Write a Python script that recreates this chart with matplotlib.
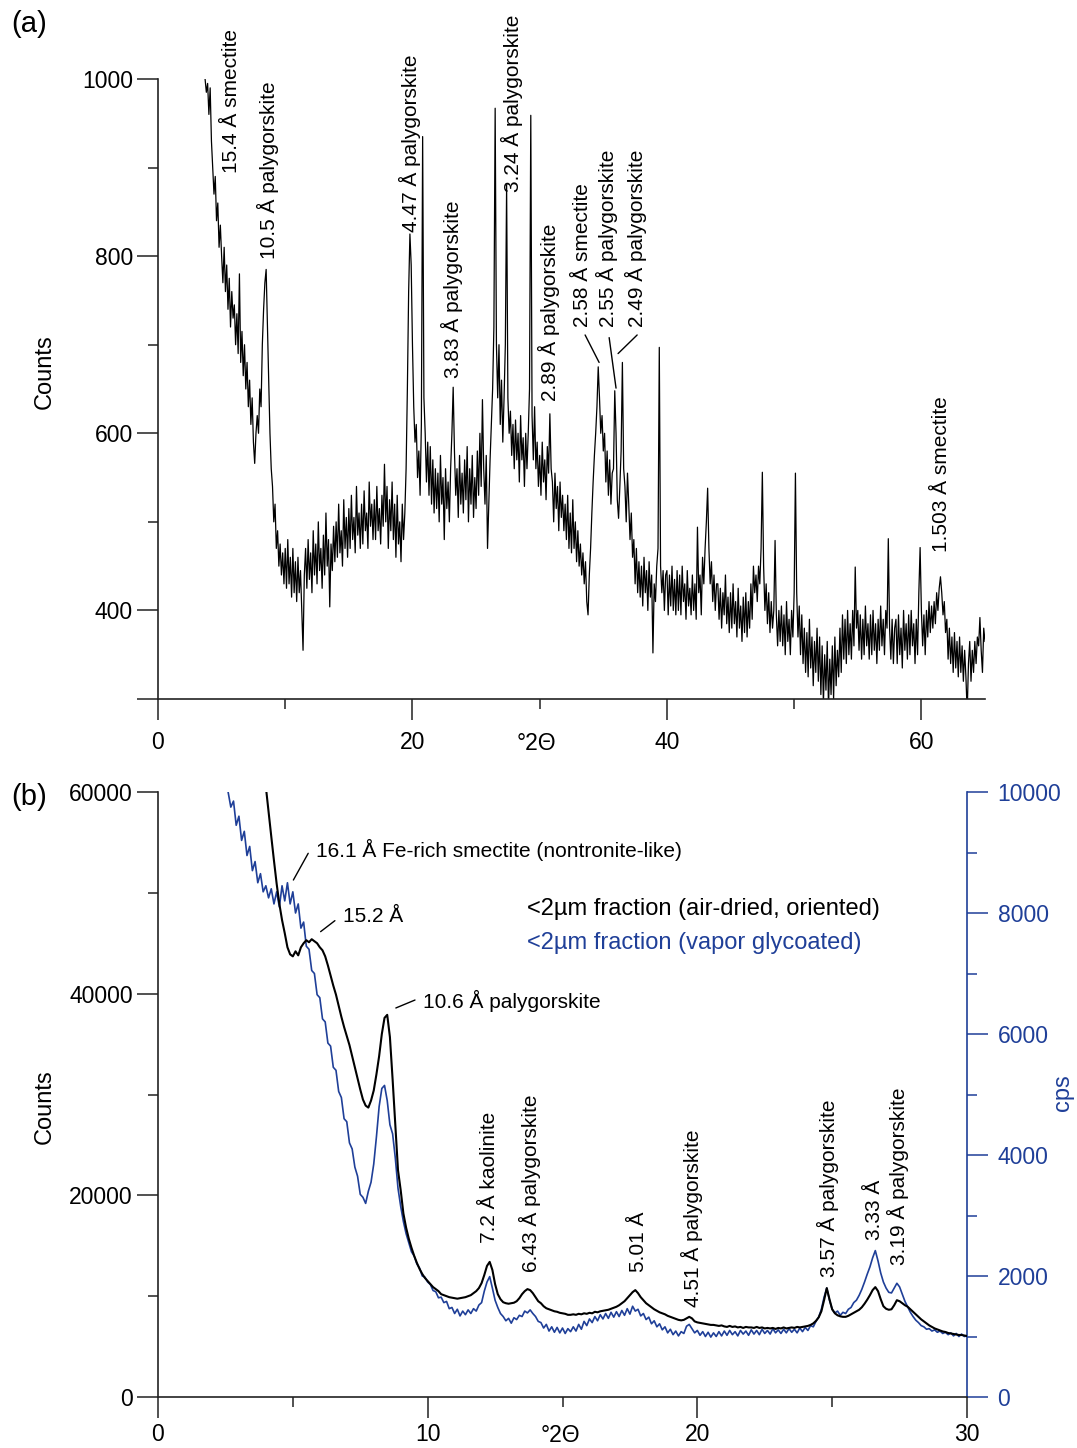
import numpy as np
import matplotlib
matplotlib.use('Agg')
import matplotlib.pyplot as plt

plt.rcParams['font.family'] = ['Liberation Sans', 'DejaVu Sans']

#######################################################################################################################################
# (a) amostra total : varredura de 3.7 a 65 graus 2theta, passo 0.1

tt_a_start = 3.7
tt_a_step = 0.1
counts_a = [
    1000, 985, 995,                                          # 3.7 - 3.9
    960, 990, 930, 900, 870, 890, 840, 860, 810, 835,        # 4
    800, 770, 810, 760, 790, 740, 775, 720, 760, 730,        # 5
    745, 700, 735, 690, 780, 680, 715, 665, 700, 650,        # 6
    680, 630, 660, 610, 640, 590, 566, 600, 620, 600,        # 7
    650, 630, 700, 740, 770, 785, 720, 660, 600, 560,        # 8
    540, 500, 520, 470, 490, 450, 475, 440, 465, 430,        # 9
    470, 425, 480, 430, 460, 415, 470, 420, 455, 410,        # 10
    460, 420, 445, 400, 355, 440, 470, 425, 480, 435,        # 11
    465, 420, 490, 440, 475, 430, 500, 445, 470, 425,        # 12
    485, 440, 510, 450, 480, 404, 475, 445, 495, 455,        # 13
    500, 460, 520, 465, 490, 450, 525, 470, 505, 460,        # 14
    515, 470, 530, 480, 505, 465, 540, 485, 510, 470,        # 15
    520, 475, 535, 490, 510, 470, 545, 495, 520, 480,        # 16
    525, 480, 540, 490, 515, 475, 530, 495, 565, 500,        # 17
    540, 470, 525, 490, 545, 480, 520, 460, 530, 475,        # 18
    500, 455, 520, 480, 510, 560, 650, 760, 825, 790,        # 19
    700, 630, 590, 610, 550, 580, 530, 610, 935, 640,        # 20
    600, 545, 590, 530, 585, 520, 570, 510, 560, 515,        # 21
    555, 500, 575, 520, 550, 480, 560, 515, 545, 500,        # 22
    560, 600, 652, 580, 530, 560, 505, 575, 520, 555,        # 23
    510, 570, 525, 585, 500, 560, 520, 575, 505, 550,        # 24
    515, 580, 530, 600, 540, 638, 560, 520, 575, 470,        # 25
    520, 570, 610, 650, 720, 967, 700, 640, 700, 610,        # 26
    660, 590, 640, 700, 880, 640, 600, 625, 575, 610,        # 27
    560, 615, 570, 600, 545, 620, 570, 595, 540, 600,        # 28
    560, 600, 650, 959, 620, 570, 630, 560, 590, 540,        # 29
    575, 530, 590, 545, 570, 525, 585, 555, 622, 560,        # 30
    545, 500, 555, 515, 540, 490, 545, 505, 530, 490,        # 31
    520, 480, 530, 470, 510, 465, 525, 470, 500, 455,        # 32
    490, 450, 475, 440, 465, 430, 455, 410, 395, 440,        # 33
    470, 510, 545, 575, 600, 630, 675, 640, 600, 620,        # 34
    580, 600, 545, 580, 530, 570, 520, 555, 560, 648,        # 35
    600, 525, 504, 540, 580, 680, 560, 540, 500, 555,        # 36
    520, 480, 510, 460, 480, 430, 470, 420, 455, 415,        # 37
    450, 405, 460, 420, 445, 400, 455, 415, 440, 352,        # 38
    430, 410, 450, 470, 697, 450, 420, 445, 400, 440,        # 39
    445, 395, 440, 405, 450, 400, 435, 395, 445, 400,        # 40
    440, 395, 450, 410, 430, 390, 445, 405, 425, 395,        # 41
    440, 400, 430, 390, 494, 420, 440, 395, 460, 430,        # 42
    470, 500, 538, 470, 430, 455, 410, 440, 400, 430,        # 43
    430, 390, 425, 380, 420, 395, 440, 385, 415, 375,        # 44
    420, 380, 430, 385, 410, 370, 425, 380, 405, 365,        # 45
    415, 375, 420, 370, 410, 380, 430, 390, 450, 420,        # 46
    440, 410, 450, 430, 470, 556, 450, 400, 430, 385,        # 47
    420, 375, 410, 380, 400, 479, 395, 360, 400, 365,        # 48
    405, 360, 395, 350, 410, 365, 390, 350, 400, 370,        # 49
    420, 555, 420, 370, 405, 350, 395, 340, 380, 330,        # 50
    375, 325, 390, 335, 370, 315, 365, 330, 380, 320,        # 51
    370, 305, 360, 295, 350, 310, 365, 290, 345, 305,        # 52
    360, 300, 370, 315, 355, 325, 380, 330, 395, 345,        # 53
    390, 340, 400, 350, 385, 345, 400, 360, 449, 380,        # 54
    400, 355, 395, 345, 390, 350, 405, 360, 385, 345,        # 55
    395, 350, 400, 355, 385, 340, 390, 355, 405, 360,        # 56
    390, 350, 400, 380, 481, 380, 345, 390, 340, 380,        # 57
    390, 340, 395, 350, 380, 335, 400, 355, 385, 345,        # 58
    395, 350, 400, 360, 385, 340, 390, 350, 420, 471,        # 59
    400, 360, 395, 350, 400, 370, 410, 375, 405, 380,        # 60
    410, 385, 420, 400, 425, 438, 420, 395, 410, 375,        # 61
    390, 345, 380, 340, 370, 330, 375, 335, 365, 325,        # 62
    370, 330, 360, 320, 355, 325, 285, 340, 365, 320,        # 63
    355, 330, 365, 340, 370, 360, 392, 355, 330, 380,        # 64
    365,                                                     # 65
]

labels_a = ['15.4 Å smectite', '10.5 Å palygorskite', '4.47 Å palygorskite',
            '3.83 Å palygorskite', '3.24 Å palygorskite', '2.89 Å palygorskite',
            '2.58 Å smectite', '2.55 Å palygorskite', '2.49 Å palygorskite',
            '1.503 Å smectite']
labels_a_xy = [(5.8, 894), (8.65, 797), (19.8, 827), (23.1, 662), (27.8, 872),
               (30.7, 637), (33.4, 720), (35.3, 720), (37.6, 720), (61.6, 466)]
leaders_a = [((33.57, 711), (34.67, 680)), ((35.46, 708), (36.0, 651)),
             ((37.66, 711), (36.16, 690))]

#######################################################################################################################################
# (b) fracao <2um : passo 0.1

tt_b_step = 0.1
tt_air_start = 4.0
counts_air = [
    60500, 58000, 55600, 53200, 50900, 48900, 47300, 46000, 44600, 43900,   # 4
    43700, 44200, 43800, 44600, 45000, 45300, 45100, 45400, 45200, 45000,   # 5
    44600, 44300, 43700, 42800, 41800, 40800, 39900, 38800, 37700, 36700,   # 6
    35800, 34900, 33800, 32700, 31600, 30500, 29500, 28900, 28700, 29400,   # 7
    30400, 32000, 33800, 36000, 37600, 37900, 35700, 31500, 27000, 22500,   # 8
    20500, 18200, 16800, 15700, 14800, 14000, 13300, 12700, 12200, 11800,   # 9
    11500, 11200, 10900, 10700, 10500, 10200, 10100, 10000, 9900, 9850,     # 10
    9800, 9750, 9800, 9850, 9900, 10000, 10100, 10300, 10500, 10800,       # 11
    11300, 12100, 13000, 13400, 12600, 11200, 10200, 9700, 9400, 9300,     # 12
    9250, 9300, 9350, 9500, 9800, 10200, 10500, 10700, 10600, 10300,       # 13
    9900, 9500, 9300, 9000, 8800, 8700, 8600, 8500, 8450, 8350,            # 14
    8300, 8250, 8150, 8150, 8200, 8150, 8250, 8200, 8300, 8250,            # 15
    8350, 8300, 8450, 8400, 8500, 8550, 8600, 8650, 8750, 8850,            # 16
    8950, 9100, 9300, 9500, 9800, 10100, 10400, 10600, 10300, 9900,        # 17
    9600, 9300, 9100, 8900, 8700, 8550, 8400, 8300, 8200, 8050,            # 18
    7950, 7850, 7750, 7650, 7600, 7650, 7800, 7950, 7800, 7500,            # 19
    7400, 7350, 7300, 7250, 7200, 7150, 7150, 7100, 7050, 7100,            # 20
    7000, 6950, 7050, 6950, 7000, 6900, 6950, 6850, 6950, 6900,            # 21
    6900, 6850, 6950, 6850, 6900, 6800, 6850, 6800, 6850, 6750,            # 22
    6850, 6800, 6900, 6800, 6850, 6900, 6850, 6950, 6900, 6950,            # 23
    7000, 7050, 7150, 7300, 7550, 7900, 8500, 9600, 10800, 9700,           # 24
    8700, 8300, 8100, 8000, 7950, 7950, 8050, 8200, 8350, 8500,            # 25
    8650, 8900, 9250, 9650, 10100, 10600, 10900, 10500, 9700, 9000,        # 26
    8750, 8650, 8700, 9100, 9600, 9500, 9300, 9100, 8950, 8700,            # 27
    8450, 8200, 7950, 7700, 7500, 7300, 7100, 6950, 6800, 6700,            # 28
    6600, 6500, 6450, 6350, 6300, 6250, 6200, 6150, 6150, 6100,            # 29
    6050,                                                                  # 30
]

tt_gly_start = 2.6
cps_gly = [
    10000, 9750, 9850, 9450,                                         # 2.6 - 2.9
    9600, 9200, 9350, 8950, 9100, 8700, 8850, 8500, 8650, 8350,      # 3
    8450, 8250, 8400, 8150, 8350, 8100, 8450, 8200, 8500, 8150,      # 4
    8350, 8000, 8150, 7750, 7850, 7450, 7400, 7050, 7000, 6650,      # 5
    6600, 6250, 6200, 5850, 5800, 5450, 5400, 5050, 4950, 4600,      # 6
    4550, 4200, 4100, 3800, 3650, 3350, 3300, 3200, 3400, 3550,      # 7
    3850, 4300, 4800, 5100, 5150, 4900, 4500, 4350, 3950, 3450,      # 8
    3150, 2900, 2700, 2550, 2400, 2330, 2200, 2130, 2000, 1980,      # 9
    1900, 1860, 1760, 1740, 1640, 1650, 1560, 1580, 1460, 1480,      # 10
    1380, 1450, 1340, 1420, 1360, 1440, 1380, 1460, 1420, 1520,      # 11
    1560, 1750, 1900, 1990, 1800, 1600, 1480, 1380, 1330, 1260,      # 12
    1300, 1220, 1310, 1280, 1350, 1330, 1420, 1390, 1440, 1380,      # 13
    1330, 1250, 1230, 1140, 1200, 1090, 1160, 1070, 1150, 1060,      # 14
    1140, 1050, 1130, 1080, 1160, 1090, 1200, 1120, 1250, 1180,      # 15
    1290, 1230, 1330, 1260, 1360, 1290, 1380, 1300, 1400, 1320,      # 16
    1410, 1330, 1430, 1350, 1460, 1370, 1500, 1420, 1450, 1340,      # 17
    1380, 1280, 1320, 1210, 1260, 1160, 1210, 1110, 1160, 1060,      # 18
    1120, 1030, 1090, 1010, 1080, 1050, 1170, 1200, 1130, 1060,      # 19
    1100, 1020, 1080, 1000, 1070, 990, 1060, 1000, 1080, 1010,       # 20
    1090, 1020, 1100, 1030, 1080, 1010, 1100, 1040, 1090, 1020,      # 21
    1110, 1040, 1100, 1030, 1120, 1050, 1100, 1040, 1130, 1060,      # 22
    1110, 1050, 1120, 1060, 1130, 1070, 1120, 1060, 1140, 1080,      # 23
    1150, 1100, 1180, 1160, 1250, 1320, 1450, 1650, 1800, 1600,      # 24
    1450, 1390, 1420, 1350, 1400, 1380, 1450, 1480, 1560, 1600,      # 25
    1680, 1780, 1900, 2030, 2150, 2300, 2420, 2250, 2050, 1900,      # 26
    1800, 1730, 1720, 1800, 1880, 1820, 1700, 1580, 1490, 1400,      # 27
    1330, 1270, 1230, 1180, 1160, 1120, 1130, 1090, 1110, 1070,      # 28
    1090, 1050, 1070, 1030, 1060, 1010, 1050, 1000, 1040, 1000,      # 29
    1010,                                                            # 30
]

labels_b_rot = ['7.2 Å kaolinite', '6.43 Å palygorskite', '5.01 Å', '4.51 Å palygorskite',
                '3.57 Å palygorskite', '3.33 Å', '3.19 Å palygorskite']
labels_b_rot_xy = [(12.3, 15270), (13.79, 12400), (17.8, 12400), (19.8, 8930),
                   (24.84, 11900), (26.58, 15570), (27.44, 13090)]
labels_b_hor = ['16.1 Å Fe-rich smectite (nontronite-like)', '15.2 Å', '10.6 Å palygorskite']
labels_b_hor_xy = [(5.85, 54250), (6.87, 47630), (9.84, 39270)]
leaders_b = [((5.02, 51270), (5.57, 53920)), ((6.03, 46150), (6.56, 47240)),
             ((8.82, 38580), (9.53, 39370))]
serie_nomes = ['<2µm fraction (air-dried, oriented)', '<2µm fraction (vapor glycoated)']

#######################################################################################################################################
# plotagem

azul = '#1f3f98'
W, H = 1077, 1448


def caixa(l, t, r, b):
    return [l / W, 1 - b / H, (r - l) / W, (b - t) / H]


fig = plt.figure(figsize=(W / 100, H / 100), dpi=100)
ax_a = fig.add_axes(caixa(158, 79, 985, 699))
ax_b = fig.add_axes(caixa(158, 792, 967, 1397))

for ax in (ax_a, ax_b):
    for s in ('top', 'right'):
        ax.spines[s].set_visible(False)
    for s in ('left', 'bottom'):
        ax.spines[s].set_linewidth(1.2)
        ax.spines[s].set_color('#222222')
    ax.tick_params(which='major', length=15, width=1.1, color='#222222', labelsize=16.5)
    ax.tick_params(which='minor', length=7.2, width=1.1, color='#222222')
    ax.tick_params(axis='y', which='major', pad=3)
ax_a.tick_params(axis='x', which='major', pad=8)
ax_b.tick_params(axis='x', which='major', pad=4)

# ---- (a)
tt_a = tt_a_start + tt_a_step * np.arange(len(counts_a))
ax_a.plot(tt_a, counts_a, color='black', lw=0.9)
ax_a.set_xlim(0, 65)
ax_a.set_ylim(300, 1000)
ax_a.set_xticks([0, 20, 40, 60])
ax_a.set_xticks([10, 30, 50], minor=True)
ax_a.set_yticks([300, 400, 600, 800, 1000], labels=['', '400', '600', '800', '1000'])
ax_a.set_yticks([500, 700, 900], minor=True)

for txt, (x, y) in zip(labels_a, labels_a_xy):
    ax_a.text(x, y, txt, rotation=90, ha='center', va='bottom', fontsize=15)
for p0, p1 in leaders_a:
    ax_a.annotate('', xy=p1, xytext=p0,
                  arrowprops=dict(arrowstyle='-', lw=1, color='black', shrinkA=0, shrinkB=0))

# ---- (b)
tt_air = tt_air_start + tt_b_step * np.arange(len(counts_air))
tt_gly = tt_gly_start + tt_b_step * np.arange(len(cps_gly))

ax_b2 = ax_b.twinx()
ax_b2.set_position(caixa(158, 792, 967, 1397))
ax_b2.plot(tt_gly, cps_gly, color=azul, lw=1.2)
ax_b.plot(tt_air, counts_air, color='black', lw=1.5)
ax_b.set_zorder(ax_b2.get_zorder() + 1)
ax_b.patch.set_visible(False)

ax_b.set_xlim(0, 30)
ax_b.set_ylim(0, 60000)
ax_b.set_xticks([0, 10, 20, 30])
ax_b.set_xticks([5, 15, 25], minor=True)
ax_b.set_yticks([0, 20000, 40000, 60000])
ax_b.set_yticks([10000, 30000, 50000], minor=True)

ax_b2.set_ylim(0, 10000)
for s in ('top', 'left', 'bottom'):
    ax_b2.spines[s].set_visible(False)
ax_b2.spines['right'].set_color(azul)
ax_b2.spines['right'].set_linewidth(1.2)
ax_b2.set_yticks([0, 2000, 4000, 6000, 8000, 10000])
ax_b2.set_yticks([1000, 3000, 5000, 7000, 9000], minor=True)
ax_b2.tick_params(which='major', length=15, width=1.1, color=azul, labelcolor=azul,
                  labelsize=16.5, pad=7)
ax_b2.tick_params(which='minor', length=7.2, width=1.1, color=azul)

for txt, (x, y) in zip(labels_b_rot, labels_b_rot_xy):
    ax_b.text(x, y, txt, rotation=90, ha='center', va='bottom', fontsize=15)
for txt, (x, y) in zip(labels_b_hor, labels_b_hor_xy):
    ax_b.text(x, y, txt, ha='left', va='center', fontsize=15)
for p0, p1 in leaders_b:
    ax_b.annotate('', xy=p1, xytext=p0,
                  arrowprops=dict(arrowstyle='-', lw=1, color='black', shrinkA=0, shrinkB=0))

ax_b.text(13.68, 48400, serie_nomes[0], ha='left', va='center', fontsize=17, color='black')
ax_b.text(13.68, 45030, serie_nomes[1], ha='left', va='center', fontsize=17, color=azul)

# rotulos
fig.text(29 / W, 1 - 24 / H, '(a)', ha='center', va='center', fontsize=21)
fig.text(29 / W, 1 - 797 / H, '(b)', ha='center', va='center', fontsize=21)
fig.text(45 / W, 1 - 372 / H, 'Counts', rotation=90, ha='center', va='center', fontsize=17)
fig.text(45 / W, 1 - 1107 / H, 'Counts', rotation=90, ha='center', va='center', fontsize=17)
fig.text(1063 / W, 1 - 1093 / H, 'cps', rotation=90, ha='center', va='center', fontsize=17, color=azul)
fig.text(536 / W, 1 - 743 / H, '°2Θ', ha='center', va='center', fontsize=16.5)
fig.text(560 / W, 1 - 1436 / H, '°2Θ', ha='center', va='center', fontsize=16.5)

fig.savefig('out.png', dpi=100)
